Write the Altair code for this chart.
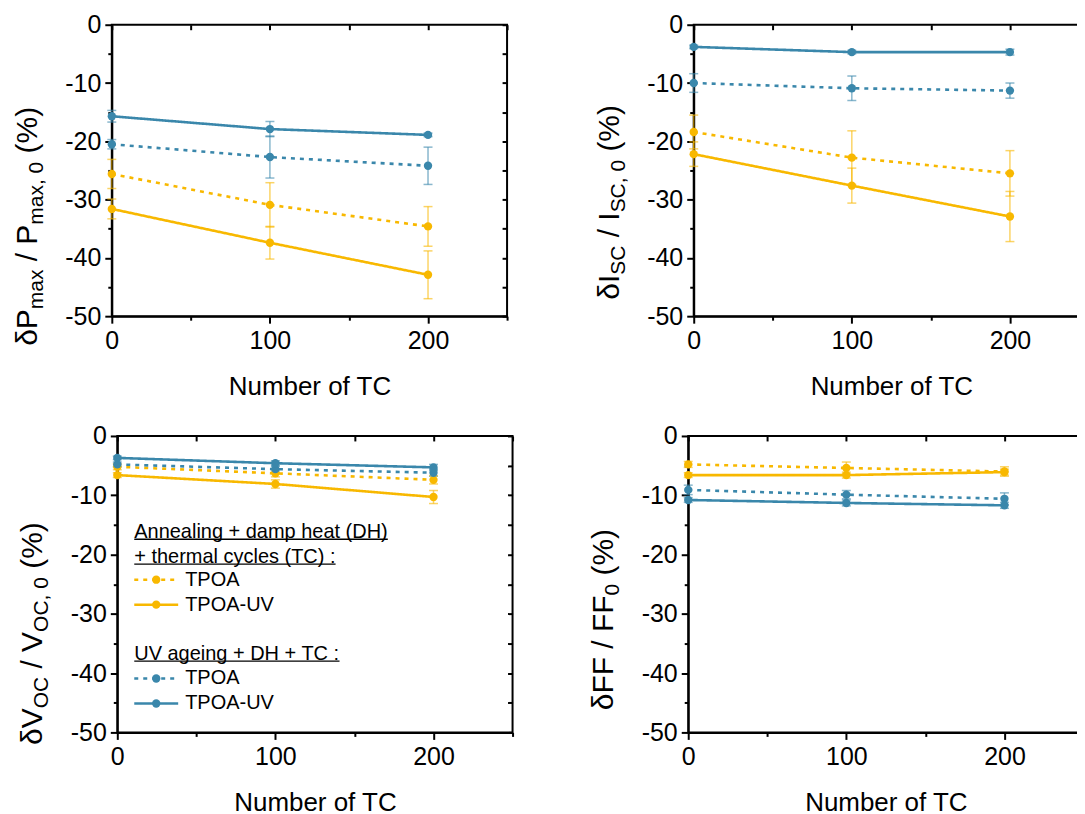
import altair as alt
import pandas as pd

FONT = "Liberation Sans"
YELLOW = "#F8B800"
BLUE = "#3A87AB"

# ---------------- data ----------------
tc_values = [0, 100, 200]
series_keys = ["ann_tpoa", "ann_tpoauv", "uv_tpoa", "uv_tpoauv"]
series_colors = [YELLOW, YELLOW, BLUE, BLUE]
series_dashes = [[4, 5], [1, 0], [4, 5], [1, 0]]

x_tick_values = [0, 50, 100, 150, 200, 250]
y_tick_values = [-50, -45, -40, -35, -30, -25, -20, -15, -10, -5, 0]

# Pmax
pmax_ann_tpoa = [-25.6, -30.9, -34.6]
pmax_ann_tpoa_err = [2.5, 3.8, 3.4]
pmax_ann_tpoauv = [-31.6, -37.4, -42.9]
pmax_ann_tpoauv_err = [1.7, 2.8, 4.1]
pmax_uv_tpoa = [-20.5, -22.7, -24.2]
pmax_uv_tpoa_err = [0.8, 3.6, 3.2]
pmax_uv_tpoauv = [-15.7, -17.9, -18.9]
pmax_uv_tpoauv_err = [1.0, 1.3, 0.3]

# Isc
isc_ann_tpoa = [-18.4, -22.8, -25.5]
isc_ann_tpoa_err = [2.9, 4.6, 3.9]
isc_ann_tpoauv = [-22.2, -27.6, -32.9]
isc_ann_tpoauv_err = [2.1, 3.0, 4.3]
isc_uv_tpoa = [-10.0, -10.9, -11.3]
isc_uv_tpoa_err = [1.6, 2.1, 1.3]
isc_uv_tpoauv = [-3.8, -4.7, -4.7]
isc_uv_tpoauv_err = [0.3, 0.3, 0.5]

# Voc
voc_ann_tpoa = [-5.2, -6.3, -7.4]
voc_ann_tpoa_err = [0.5, 0.6, 0.7]
voc_ann_tpoauv = [-6.6, -8.1, -10.3]
voc_ann_tpoauv_err = [0.4, 0.7, 1.1]
voc_uv_tpoa = [-4.8, -5.6, -6.2]
voc_uv_tpoa_err = [0.4, 0.5, 0.6]
voc_uv_tpoauv = [-3.7, -4.6, -5.3]
voc_uv_tpoauv_err = [0.3, 0.4, 0.5]

# FF
ff_ann_tpoa = [-4.8, -5.4, -6.0]
ff_ann_tpoa_err = [0.5, 1.0, 0.8]
ff_ann_tpoauv = [-6.6, -6.6, -6.1]
ff_ann_tpoauv_err = [0.4, 0.5, 0.5]
ff_uv_tpoa = [-9.1, -9.9, -10.6]
ff_uv_tpoa_err = [0.8, 0.7, 1.0]
ff_uv_tpoauv = [-10.8, -11.3, -11.7]
ff_uv_tpoauv_err = [0.4, 0.5, 0.5]

panel_data = {
    "pmax": [(pmax_ann_tpoa, pmax_ann_tpoa_err), (pmax_ann_tpoauv, pmax_ann_tpoauv_err),
             (pmax_uv_tpoa, pmax_uv_tpoa_err), (pmax_uv_tpoauv, pmax_uv_tpoauv_err)],
    "isc": [(isc_ann_tpoa, isc_ann_tpoa_err), (isc_ann_tpoauv, isc_ann_tpoauv_err),
            (isc_uv_tpoa, isc_uv_tpoa_err), (isc_uv_tpoauv, isc_uv_tpoauv_err)],
    "voc": [(voc_ann_tpoa, voc_ann_tpoa_err), (voc_ann_tpoauv, voc_ann_tpoauv_err),
            (voc_uv_tpoa, voc_uv_tpoa_err), (voc_uv_tpoauv, voc_uv_tpoauv_err)],
    "ff": [(ff_ann_tpoa, ff_ann_tpoa_err), (ff_ann_tpoauv, ff_ann_tpoauv_err),
           (ff_uv_tpoa, ff_uv_tpoa_err), (ff_uv_tpoauv, ff_uv_tpoauv_err)],
}

# ---------------- text metrics (Arial / Liberation Sans) ----------------
W = {c: 556 for c in "abdeghnopqu0123456789"}
W.update({"c": 500, "f": 278, "i": 222, "j": 222, "k": 500, "l": 222, "m": 833, "r": 333,
          "s": 500, "t": 278, "v": 500, "w": 722, "x": 500, "y": 500, "z": 500,
          "A": 667, "B": 667, "C": 722, "D": 722, "E": 667, "F": 611, "G": 778, "H": 722,
          "I": 278, "O": 778, "P": 667, "S": 667, "T": 611, "U": 722, "V": 667,
          " ": 278, "+": 584, "(": 333, ")": 333, ":": 278, ",": 278, "/": 278,
          "%": 889, "-": 333, "δ": 556})


def tw(text, size):
    return sum(W.get(ch, 556) for ch in text) * size / 1000.0


dummy = pd.DataFrame({"d": [0]})

PW = 396
PH_TOP, PH_BOTTOM = 292, 297
F_MAIN, F_SUB = 30, 21


def title_layers(pieces, center_rel):
    total = sum(tw(t, F_SUB if sub else F_MAIN) for t, sub in pieces)
    y = center_rel + total / 2.0
    layers = []
    for t, sub in pieces:
        size = F_SUB if sub else F_MAIN
        lead = len(t) - len(t.lstrip(" "))
        txt = t.strip(" ")
        x = -75 + (6 if sub else 0)
        layers.append(
            alt.Chart(dummy).mark_text(text=txt, angle=270, align="left", baseline="alphabetic",
                                       font=FONT, fontSize=size, color="black")
            .encode(x=alt.value(x), y=alt.value(y - lead * W[" "] * size / 1000.0))
        )
        y -= tw(t, size)
    return layers


def legend_layers():
    lay = []
    LF = 20
    x0 = 17
    heads = [("Annealing + damp heat (DH)", 96), ("+ thermal cycles (TC) :", 121), ("UV ageing + DH + TC :", 218)]
    for txt, yy in heads:
        lay.append(alt.Chart(dummy).mark_text(text=txt, align="left", baseline="middle", font=FONT,
                                              fontSize=LF, color="black")
                   .encode(x=alt.value(x0), y=alt.value(yy)))
        lay.append(alt.Chart(dummy).mark_rule(color="black", strokeWidth=1.3)
                   .encode(x=alt.value(x0), x2=alt.value(x0 + tw(txt, LF)), y=alt.value(yy + 7.5)))
    items = [("TPOA", 144, YELLOW, [4, 5]), ("TPOA-UV", 169, YELLOW, [1, 0]),
             ("TPOA", 243, BLUE, [4, 5]), ("TPOA-UV", 268, BLUE, [1, 0])]
    for txt, yy, col, dash in items:
        lay.append(alt.Chart(dummy).mark_rule(color=col, strokeWidth=2.5, strokeDash=dash)
                   .encode(x=alt.value(x0), x2=alt.value(x0 + 44), y=alt.value(yy)))
        lay.append(alt.Chart(dummy).mark_circle(color=col, size=70, opacity=1)
                   .encode(x=alt.value(x0 + 22), y=alt.value(yy)))
        lay.append(alt.Chart(dummy).mark_text(text=txt, align="left", baseline="middle", font=FONT,
                                              fontSize=LF, color="black")
                   .encode(x=alt.value(x0 + 51), y=alt.value(yy)))
    return lay


def panel(key, pieces, title_center, height, legend=False):
    rows = []
    for s, (vals, errs) in zip(series_keys, panel_data[key]):
        for t, v, e in zip(tc_values, vals, errs):
            rows.append({"series": s, "tc": t, "value": v, "lo": v - e, "hi": v + e})
    df = pd.DataFrame(rows)

    xs = alt.Scale(domain=[0, 250], nice=False, zero=False)
    ys = alt.Scale(domain=[-50, 0], nice=False, zero=False)

    bottom_axis = alt.Axis(orient="bottom", values=x_tick_values, title="Number of TC",
                           labelExpr="datum.value % 100 === 0 ? '' + datum.value : ''",
                           tickSize={"condition": {"test": "datum.value % 100 === 0", "value": 7}, "value": 4},
                           labelFlush=False, labelPadding=5, titlePadding=20, grid=False)
    left_axis = alt.Axis(orient="left", values=y_tick_values, title=None,
                         labelExpr="datum.value % 10 === 0 ? '' + datum.value : ''",
                         tickSize={"condition": {"test": "datum.value % 10 === 0", "value": 7}, "value": 4},
                         labelPadding=4, grid=False)
    top_axis = alt.Axis(orient="top", values=x_tick_values, labels=False, domain=False, title=None,
                        tickSize=5, offset=-5, grid=False)
    right_axis = alt.Axis(orient="right", values=y_tick_values, labels=False, domain=False, title=None,
                          tickSize=5, offset=-5, grid=False)

    color = alt.Color("series:N", scale=alt.Scale(domain=series_keys, range=series_colors), legend=None)
    dash = alt.StrokeDash("series:N", scale=alt.Scale(domain=series_keys, range=series_dashes), legend=None)

    base = alt.Chart(df)
    X = lambda: alt.X("tc:Q", scale=xs, axis=None)
    axes1 = base.mark_point(opacity=0).encode(
        x=alt.X("tc:Q", scale=xs, axis=bottom_axis), y=alt.Y("value:Q", scale=ys, axis=left_axis))
    axes2 = base.mark_point(opacity=0).encode(
        x=alt.X("tc:Q", scale=xs, axis=top_axis), y=alt.Y("value:Q", scale=ys, axis=right_axis))
    err = base.mark_rule(strokeWidth=1.5, opacity=0.6).encode(
        x=X(), y=alt.Y("lo:Q", scale=ys, axis=None), y2="hi:Q", color=color)
    cap_lo = base.mark_tick(orient="horizontal", size=9, thickness=1.5, opacity=0.6).encode(
        x=X(), y=alt.Y("lo:Q", scale=ys, axis=None), color=color)
    cap_hi = base.mark_tick(orient="horizontal", size=9, thickness=1.5, opacity=0.6).encode(
        x=X(), y=alt.Y("hi:Q", scale=ys, axis=None), color=color)
    lines = base.mark_line(strokeWidth=2.6).encode(
        x=X(), y=alt.Y("value:Q", scale=ys, axis=None), color=color, strokeDash=dash)
    pts = base.mark_circle(size=70, opacity=1).encode(
        x=X(), y=alt.Y("value:Q", scale=ys, axis=None), color=color)

    layers = [axes1, axes2, err, cap_lo, cap_hi, lines, pts] + title_layers(pieces, title_center)
    if legend:
        layers += legend_layers()
    return alt.layer(*layers).resolve_axis(x="independent", y="independent").properties(width=PW, height=height)


p1 = panel("pmax", [("δP", False), ("max", True), (" / P", False), ("max, 0", True), (" (%)", False)], 202, PH_TOP)
p2 = panel("isc", [("δI", False), ("SC", True), (" / I", False), ("SC, 0", True), (" (%)", False)], 178, PH_TOP)
p3 = panel("voc", [("δV", False), ("OC", True), (" / V", False), ("OC, 0", True), (" (%)", False)], 198, PH_BOTTOM, legend=True)
p4 = panel("ff", [("δFF / FF", False), ("0", True), (" (%)", False)], 184, PH_BOTTOM)

chart = alt.vconcat(
    alt.hconcat(p1, p2, spacing=84),
    alt.hconcat(p3, p4, spacing=73),
    spacing=23, center=True,
).properties(
    padding={"left": 3, "top": 3, "right": -14, "bottom": 0}
).configure_view(
    stroke="black", strokeWidth=2
).configure_axis(
    labelFont=FONT, labelFontSize=25, labelColor="black",
    titleFont=FONT, titleFontSize=26, titleFontWeight="normal", titleColor="black",
    tickColor="black", tickWidth=2, domainColor="black", domainWidth=2,
)

chart.save("out.html", embed_options={"renderer": "svg", "actions": False})
